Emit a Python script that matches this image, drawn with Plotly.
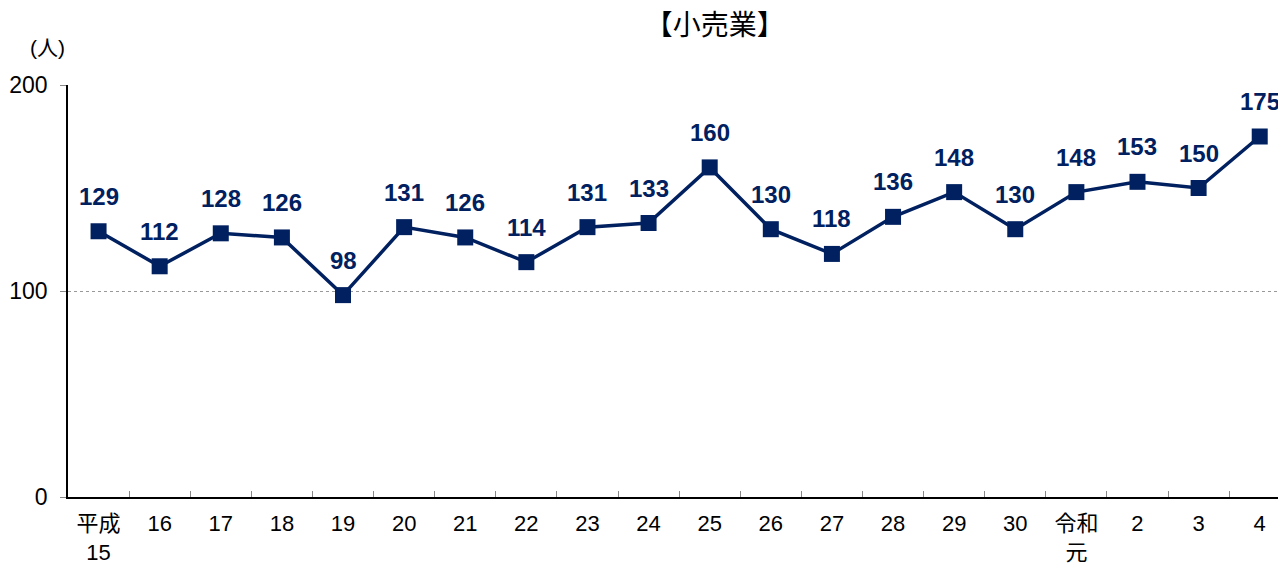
import plotly.graph_objects as go

categories = ["平成<br>15", "16", "17", "18", "19", "20", "21", "22", "23", "24",
              "25", "26", "27", "28", "29", "30", "令和<br>元", "2", "3", "4"]
persons = [129, 112, 128, 126, 98, 131, 126, 114, 131, 133,
           160, 130, 118, 136, 148, 130, 148, 153, 150, 175]
y_ticks = [0, 100, 200]

NAVY = "#002060"
FONT = "Arial, Liberation Sans, Noto Sans CJK JP"

fig = go.Figure()
fig.add_trace(go.Scatter(
    x=categories, y=persons,
    mode="lines+markers",
    line=dict(color=NAVY, width=3.5),
    marker=dict(symbol="square", size=16, color=NAVY),
    cliponaxis=False,
    hoverinfo="skip",
))

# value labels above each point (x given as category index)
for i, v in enumerate(persons):
    fig.add_annotation(x=i, y=v, text=str(v), showarrow=False, yshift=35,
                       font=dict(family=FONT, size=24, color=NAVY, weight="bold"))

fig.add_annotation(xref="paper", yref="paper", x=-0.017, y=1.09, text="(人)",
                   xanchor="center", yanchor="middle", showarrow=False,
                   font=dict(family=FONT, size=21, color="black"))

# the page body has an 8px margin, so the figure is a bit smaller
fig.update_layout(
    width=1278, height=563,
    margin=dict(l=60, r=0, t=77, b=74),
    paper_bgcolor="white", plot_bgcolor="white",
    showlegend=False,
    font=dict(family=FONT, size=22, color="black"),
    title=dict(text="【小売業】", x=0.553, xref="container", y=0.970, yref="container",
               xanchor="center", yanchor="middle",
               font=dict(family=FONT, size=28, color="black")),
    xaxis=dict(
        type="category", range=[-0.5, 19.43], automargin=False,
        showline=True, linecolor="black", linewidth=1.5,
        ticks="inside", ticklen=6, tickcolor="#888888", tickson="boundaries",
        showgrid=False, tickfont=dict(size=22), ticklabelstandoff=6,
    ),
    yaxis=dict(
        range=[0, 200], tickvals=y_ticks, automargin=False,
        showline=True, linecolor="black", linewidth=1.5,
        ticks="outside", ticklen=6, tickcolor="#888888",
        showgrid=True, gridcolor="#999999", griddash="dot", gridwidth=1,
        zeroline=False, tickfont=dict(size=23), ticklabelstandoff=8,
    ),
)

fig.write_html("out.html")
